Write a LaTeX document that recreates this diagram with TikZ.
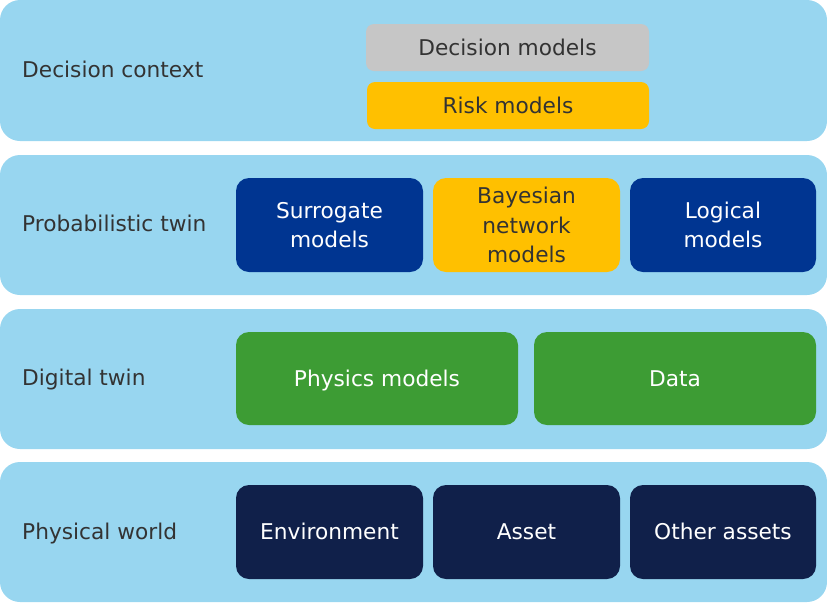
\documentclass[tikz,border=0pt]{standalone}
\usepackage{fontspec}
\setmainfont{DejaVu Sans}
\definecolor{band}{HTML}{98D6F0}
\definecolor{txt}{HTML}{333333}
\definecolor{grayb}{HTML}{C6C6C6}
\definecolor{amber}{HTML}{FFC000}
\definecolor{royal}{HTML}{003591}
\definecolor{leaf}{HTML}{3D9C34}
\definecolor{navy}{HTML}{10204A}
\tikzset{
  bandbox/.style={fill=band, draw=none, rounded corners=20pt},
  one/.style={text height=15.8pt, text depth=0pt},
  lbl/.style={one, anchor=west, text=txt, font=\fontsize{21.7}{25}\selectfont, inner sep=0pt},
  box/.style={draw=none, align=center, font=\fontsize{21.7}{29.5}\selectfont, inner sep=0pt},
}
\begin{document}
\begin{tikzpicture}[x=1pt,y=-1pt]
\useasboundingbox (0,0) rectangle (827,603);
% bands
\fill[bandbox] (0,0) rectangle (827,141);
\fill[bandbox] (0,155) rectangle (827,295);
\fill[bandbox] (0,309) rectangle (827,449);
\fill[bandbox] (0,462) rectangle (827,602);
% labels
\node[lbl] (l1) at (22,70) {Decision context};
\node[lbl] (l2) at (22,224) {Probabilistic twin};
\node[lbl] (l3) at (22,378) {Digital twin};
\node[lbl] (l4) at (22,532) {Physical world};
% decision context
\fill[grayb, rounded corners=8pt] (366,24) rectangle (649,71);
\node[box, one, text=txt] (dm) at (507.5,47.5) {Decision models};
\fill[amber, rounded corners=8pt] (367,82) rectangle (649,129);
\node[box, one, text=txt] (rm) at (508,105.5) {Risk models};
% probabilistic twin
\fill[royal, rounded corners=13pt] (236,178) rectangle (423,272);
\node[box, text=white] (sm) at (329.5,225) {Surrogate\\models};
\fill[amber, rounded corners=13pt] (433,178) rectangle (620,272);
\node[box, text=txt] (bn) at (526.5,225) {Bayesian\\network\\models};
\fill[royal, rounded corners=13pt] (630,178) rectangle (816,272);
\node[box, text=white] (lm) at (723,225) {Logical\\models};
% digital twin
\fill[leaf, rounded corners=13pt] (236,332) rectangle (518,425);
\node[box, one, text=white] (pm) at (377,378.5) {Physics models};
\fill[leaf, rounded corners=13pt] (534,332) rectangle (816,425);
\node[box, one, text=white] (da) at (675,378.5) {Data};
% physical world
\fill[navy, rounded corners=13pt] (236,485) rectangle (423,579);
\node[box, one, text=white] (en) at (329.5,532) {Environment};
\fill[navy, rounded corners=13pt] (433,485) rectangle (620,579);
\node[box, one, text=white] (as) at (526.5,532) {Asset};
\fill[navy, rounded corners=13pt] (630,485) rectangle (816,579);
\node[box, one, text=white] (oa) at (723,532) {Other assets};
\end{tikzpicture}
\end{document}
